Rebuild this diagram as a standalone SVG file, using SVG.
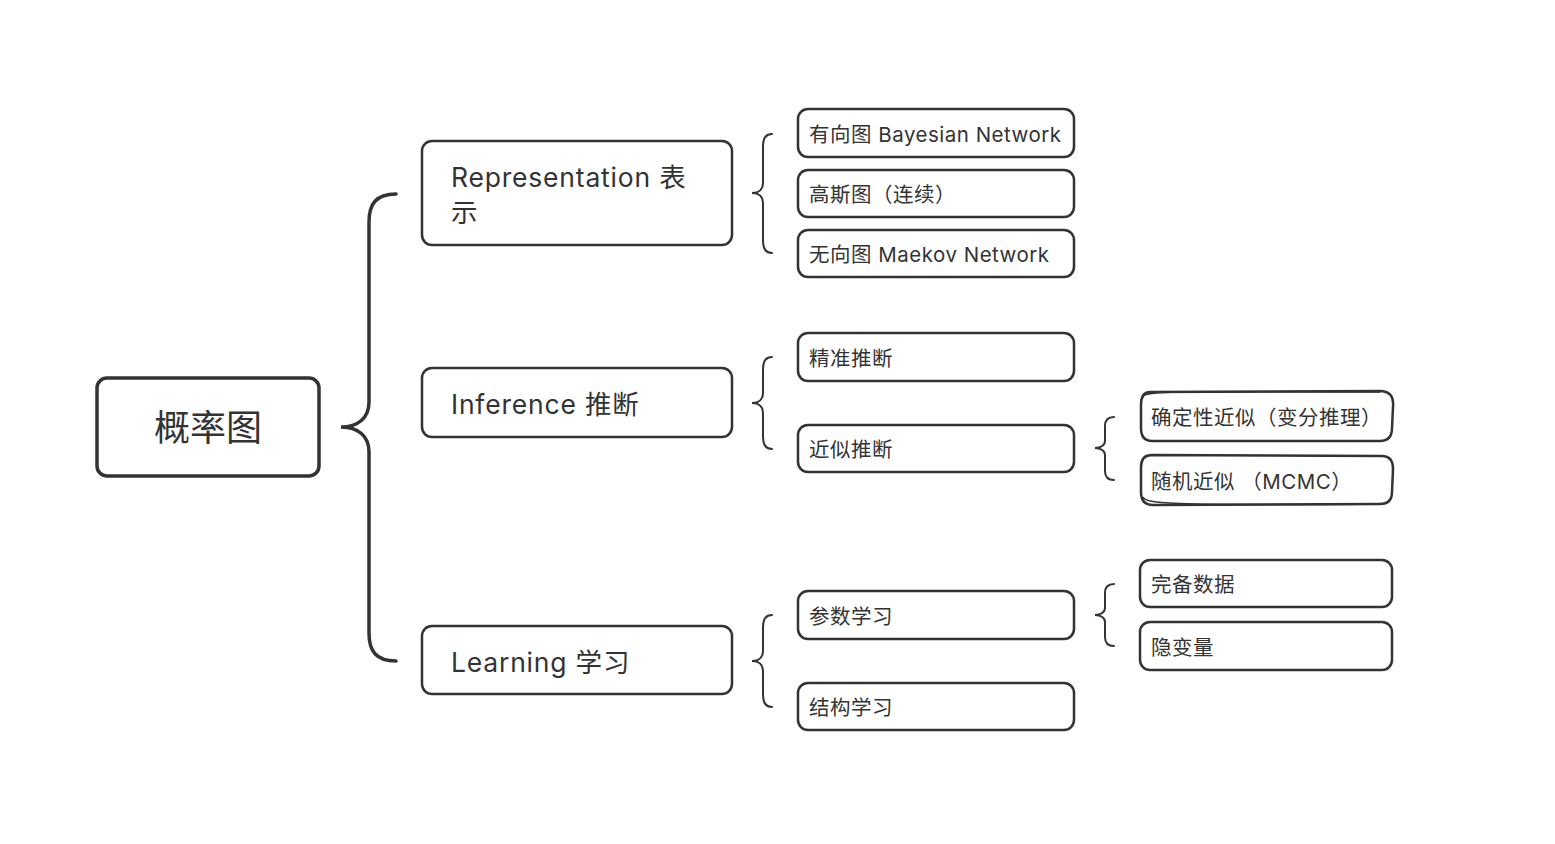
<svg xmlns="http://www.w3.org/2000/svg" width="1555" height="844" viewBox="0 0 1555 844">
<style>
.box{fill:#fff;stroke:#333;stroke-width:2.5}
.root{fill:#fff;stroke:#333;stroke-width:3.5}
.sk{fill:#fff;stroke:#333;stroke-width:2.5;stroke-linejoin:round}
.br{fill:none;stroke:#333;stroke-width:2;stroke-linecap:round}
.bbr{fill:none;stroke:#333;stroke-width:3.5;stroke-linecap:round}
text{font-family:Inter,"Noto Sans CJK SC",sans-serif;fill:#333}
.t1{font-size:26.5px;letter-spacing:0.8px}
.t2{font-size:20.5px;letter-spacing:0.5px}
.t0{font-size:36px}
</style>
<rect width="1555" height="844" fill="#fff"/>
<g id="connectors">
<path class="bbr" d="M396,194 C376,194 369,204 369,222 L369,402 C369,418 358,427 341,427 C358,427 369,436 369,452 L369,633 C369,651 376,661 396,661"/>
<path class="br" d="M772,134 C766,134 763,138 763,146 L763,183 C763,189 759,193 752,193 C759,193 763,197 763,203 L763,241 C763,249 766,253 772,253"/>
<path class="br" d="M772,357 C766,357 763,361 763,369 L763,393 C763,399 759,403 752,403 C759,403 763,407 763,413 L763,437 C763,445 766,449 772,449"/>
<path class="br" d="M772,615 C766,615 763,619 763,627 L763,651 C763,657 759,661 752,661 C759,661 763,665 763,671 L763,695 C763,703 766,707 772,707"/>
<path class="br" d="M1114,417 C1108,417 1105,420 1105,426 L1105,441 C1105,445 1101,448 1095,448 C1101,448 1105,451 1105,455 L1105,471 C1105,477 1108,480 1114,480"/>
<path class="br" d="M1114,584 C1108,584 1105,587 1105,593 L1105,608 C1105,612 1101,615 1095,615 C1101,615 1105,618 1105,622 L1105,637 C1105,643 1108,646 1114,646"/>
</g>
<g id="root">
<rect class="root" x="97" y="378" width="222" height="98" rx="10"/>
<text class="t0" x="208" y="441" text-anchor="middle">概率图</text>
</g>
<g id="representation">
<rect class="box" x="422" y="141" width="310" height="104" rx="10"/>
<text class="t1" x="451" y="187">Representation 表</text>
<text class="t1" x="451" y="222">示</text>
</g>
<g id="inference">
<rect class="box" x="422" y="368" width="310" height="69" rx="10"/>
<text class="t1" x="451" y="414">Inference 推断</text>
</g>
<g id="learning">
<rect class="box" x="422" y="626" width="310" height="68" rx="10"/>
<text class="t1" x="451" y="672">Learning 学习</text>
</g>
<g id="bayesian">
<rect class="box" x="798" y="109" width="276" height="48" rx="10"/>
<text class="t2" x="809" y="142">有向图 Bayesian Network</text>
</g>
<g id="gaussian">
<rect class="box" x="798" y="170" width="276" height="47" rx="10"/>
<text class="t2" x="809" y="202">高斯图（连续）</text>
</g>
<g id="markov">
<rect class="box" x="798" y="230" width="276" height="47" rx="10"/>
<text class="t2" x="809" y="262">无向图 Maekov Network</text>
</g>
<g id="exact">
<rect class="box" x="798" y="333" width="276" height="48" rx="10"/>
<text class="t2" x="809" y="366">精准推断</text>
</g>
<g id="approx">
<rect class="box" x="798" y="425" width="276" height="47" rx="10"/>
<text class="t2" x="809" y="457">近似推断</text>
</g>
<g id="param">
<rect class="box" x="798" y="591" width="276" height="48" rx="10"/>
<text class="t2" x="809" y="624">参数学习</text>
</g>
<g id="structure">
<rect class="box" x="798" y="683" width="276" height="47" rx="10"/>
<text class="t2" x="809" y="715">结构学习</text>
</g>
<g id="deterministic">
<path class="sk" d="M1150,392 L1382,391 C1391,392 1394,398 1393,407 L1392,428 C1392,437 1388,441 1380,441 L1152,441 C1144,441 1141,436 1141,428 L1141,405 C1141,397 1144,392 1150,392 Z"/>
<path class="sk" d="M1144,396 C1146,392 1160,391 1380,392" style="fill:none;stroke-width:1.5"/>
<text class="t2" x="1151" y="425">确定性近似（变分推理）</text>
</g>
<g id="mcmc">
<path class="sk" d="M1152,455 L1382,456 C1390,456 1393,461 1393,469 L1392,492 C1392,500 1388,504 1380,504 L1153,505 C1145,505 1141,500 1141,492 L1141,467 C1141,459 1145,455 1152,455 Z"/>
<path class="sk" d="M1143,497 C1145,503 1160,506 1380,504" style="fill:none;stroke-width:1.5"/>
<text class="t2" x="1151" y="489">随机近似 （MCMC）</text>
</g>
<g id="complete">
<rect class="box" x="1140" y="560" width="252" height="47" rx="10"/>
<text class="t2" x="1151" y="592">完备数据</text>
</g>
<g id="latent">
<rect class="box" x="1140" y="622" width="252" height="48" rx="10"/>
<text class="t2" x="1151" y="655">隐变量</text>
</g>
</svg>
